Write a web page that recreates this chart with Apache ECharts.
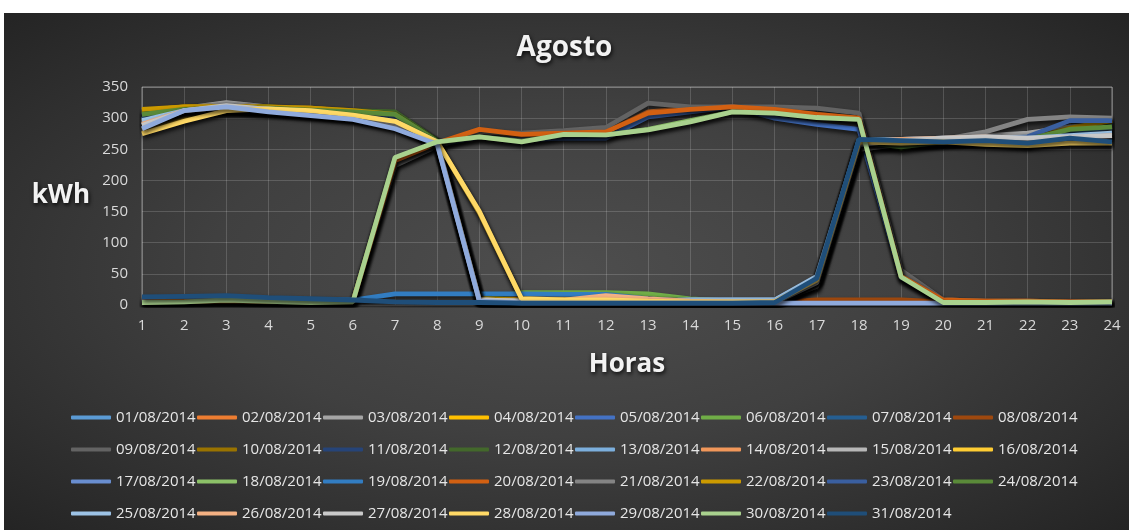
<!DOCTYPE html>
<html>
<head>
<meta charset="utf-8">
<script src="https://cdn.jsdelivr.net/npm/echarts@6/dist/echarts.min.js"></script>
<style>
  html, body { margin: 0; padding: 0; background: #ffffff; width: 1129px; height: 530px; overflow: hidden; }
  #bg { position: absolute; left: 4px; top: 13px; right: 0; bottom: 0;
        background: radial-gradient(ellipse at 50% 50%, #4e4e4e 0%, #404040 45%, #242424 100%); }
  #chart { position: absolute; left: 0; top: 0; width: 1129px; height: 530px; }
</style>
</head>
<body>
<div id="bg"></div>
<div id="chart"></div>
<script>
// ---- data ----
const hours = ['1','2','3','4','5','6','7','8','9','10','11','12','13','14','15','16','17','18','19','20','21','22','23','24'];
const yTicks = { min: 0, max: 350, interval: 50 };
const dayNames = ['01/08/2014','02/08/2014','03/08/2014','04/08/2014','05/08/2014','06/08/2014','07/08/2014','08/08/2014',
  '09/08/2014','10/08/2014','11/08/2014','12/08/2014','13/08/2014','14/08/2014','15/08/2014','16/08/2014',
  '17/08/2014','18/08/2014','19/08/2014','20/08/2014','21/08/2014','22/08/2014','23/08/2014','24/08/2014',
  '25/08/2014','26/08/2014','27/08/2014','28/08/2014','29/08/2014','30/08/2014','31/08/2014'];
const dayColors = ['#5B9BD5','#ED7D31','#A5A5A5','#FFC000','#4472C4','#70AD47','#255E91','#9E480E',
  '#636363','#997300','#264478','#43682B','#7CAFDD','#F1975A','#B7B7B7','#FFCD33',
  '#698ED0','#8CC168','#327DC2','#D26012','#848484','#CC9A00','#3A5FA0','#5A8A39',
  '#9DC3E6','#F4B183','#C9C9C9','#FFD966','#8FAADC','#A9D18E','#1F4E79'];

const d01 = [300,312,318,315,310,304,296,262,8,6,6,6,5,5,5,6,38,262,264,266,268,264,272,280];
const d02 = [4,5,7,5,4,4,230,258,280,272,275,278,310,316,318,312,306,300,45,8,6,6,5,5];
const d03 = [292,316,325,318,312,306,292,262,8,6,6,6,5,4,4,4,28,250,258,264,272,276,286,292];
const d04 = [312,318,320,317,316,311,304,262,10,10,10,9,7,6,6,6,40,262,262,266,262,258,274,286];
const d05 = [5,7,8,6,5,5,228,257,270,265,268,268,302,310,318,300,290,282,44,6,5,5,4,4];
const d06 = [308,316,318,317,314,310,306,262,10,20,20,20,18,10,6,5,38,260,252,260,264,262,280,284];
const d07 = [304,311,313,311,309,310,306,263,8,5,5,5,4,4,4,4,42,265,262,262,265,262,270,276];
const d08 = [306,314,318,316,313,309,304,262,8,5,5,5,4,4,4,4,8,8,8,5,4,4,4,4];
const d09 = [6,8,9,7,6,6,224,255,278,276,280,285,324,318,318,318,316,308,56,8,6,6,5,5];
const d10 = [310,318,320,318,315,312,306,262,9,6,6,6,5,4,4,4,40,262,264,266,268,268,282,296];
const d11 = [305,312,314,312,310,308,304,262,6,4,4,4,3,3,3,3,42,264,262,262,266,262,270,270];
const d12 = [307,315,318,318,315,312,310,264,8,6,6,6,5,4,4,4,40,262,262,264,266,264,276,288];
const d13 = [298,314,320,316,312,306,296,262,8,6,6,6,6,8,8,8,44,264,266,266,268,270,274,278];
const d14 = [294,314,320,315,310,304,294,261,8,10,12,15,10,6,5,5,38,262,266,266,268,266,270,272];
const d15 = [292,314,322,316,310,304,290,260,8,6,6,6,5,4,4,4,36,258,262,266,270,270,272,274];
const d16 = [282,300,314,315,312,306,296,262,148,10,8,8,6,5,5,5,40,262,260,262,260,258,262,262];
const d17 = [290,312,318,312,306,300,288,260,6,5,5,5,4,4,4,4,40,262,262,264,266,264,268,270];
const d18 = [4,5,7,5,4,5,235,261,270,263,273,273,282,296,310,308,302,298,46,5,4,5,4,5];
const d19 = [9,10,11,10,9,8,18,18,18,18,17,17,10,6,5,5,40,264,266,268,268,266,278,286];
const d20 = [5,6,7,6,5,5,232,260,282,274,276,278,308,314,318,314,306,300,46,8,6,6,5,5];
const d21 = [294,316,322,316,310,304,290,261,8,6,6,6,5,4,4,4,30,250,258,266,278,298,302,300];
const d22 = [314,318,319,318,316,312,306,262,10,8,8,8,6,5,5,5,40,262,264,264,266,264,284,296];
const d23 = [304,312,314,312,308,306,300,262,8,5,5,5,4,4,4,4,42,264,262,264,266,270,296,296];
const d24 = [306,314,316,316,313,310,306,263,8,6,6,6,5,4,4,4,40,262,254,262,266,266,282,286];
const d25 = [296,312,318,315,310,304,294,262,8,6,6,6,6,8,8,8,46,264,266,268,270,268,272,276];
const d26 = [290,312,318,314,308,302,290,260,8,6,8,15,10,6,5,5,38,262,266,268,270,266,268,272];
const d27 = [288,312,320,314,308,302,288,260,8,6,6,6,5,4,4,4,36,258,264,268,270,268,270,272];
const d28 = [275,295,312,315,312,305,295,262,150,10,8,8,6,5,5,5,40,262,260,262,258,256,260,260];
const d29 = [283,312,318,310,304,298,283,258,6,3,3,3,3,3,3,3,3,3,3,3,3,3,3,3];
const d30 = [4,5,8,6,4,5,237,262,270,262,274,273,281,294,310,308,301,298,45,4,4,5,4,5];
const d31 = [13,14,15,12,10,8,5,4,4,3,3,3,3,3,3,4,43,266,264,262,264,260,268,262];

const dayValues = [d01,d02,d03,d04,d05,d06,d07,d08,d09,d10,d11,d12,d13,d14,d15,d16,
  d17,d18,d19,d20,d21,d22,d23,d24,d25,d26,d27,d28,d29,d30,d31];

// ---- chart ----
const FONT = "'Open Sans', 'Noto Sans', sans-serif";
const chart = echarts.init(document.getElementById('chart'), null, { renderer: 'canvas' });

const series = dayNames.map((name, i) => ({
  name: name,
  type: 'line',
  data: dayValues[i],
  symbol: 'none',
  showSymbol: false,
  color: dayColors[i],
  lineStyle: {
    width: 4.8,
    color: dayColors[i],
    shadowColor: 'rgba(0,0,0,0.75)',
    shadowBlur: 4,
    shadowOffsetX: 1,
    shadowOffsetY: 3
  },
  emphasis: { disabled: true },
  z: 2 + i
}));

const nameStyle = {
  color: '#f2f2f2', fontWeight: 'bold', fontFamily: FONT,
  textShadowColor: 'rgba(0,0,0,0.85)', textShadowBlur: 4, textShadowOffsetX: 1, textShadowOffsetY: 2
};

chart.setOption({
  backgroundColor: 'transparent',
  animation: false,
  textStyle: { fontFamily: FONT },
  title: {
    text: 'Agosto',
    left: 'center',
    top: 29,
    textStyle: Object.assign({ fontSize: 28 }, nameStyle)
  },
  grid: {
    left: 142, right: 17, top: 87, bottom: 225,
    show: true,
    borderColor: '#8a8a8a',
    borderWidth: 1,
    containLabel: false
  },
  legend: {
    data: dayNames,
    left: 66,
    top: 397,
    width: 1012,
    orient: 'horizontal',
    icon: 'roundRect',
    itemWidth: 40,
    itemHeight: 4,
    itemGap: 1,
    itemStyle: { shadowBlur: 0, shadowColor: 'transparent' },
    textStyle: {
      color: '#e6e6e6',
      fontSize: 15,
      fontFamily: FONT,
      width: 80,
      lineHeight: 31
    }
  },
  xAxis: {
    type: 'category',
    data: hours,
    boundaryGap: false,
    name: 'Horas',
    nameLocation: 'middle',
    nameGap: 47,
    nameTextStyle: Object.assign({ fontSize: 26 }, nameStyle),
    axisLine: { show: true, lineStyle: { color: '#7a7a7a', width: 1 } },
    axisTick: { show: false },
    axisLabel: { color: '#d9d9d9', fontSize: 15, margin: 13, fontFamily: FONT },
    splitLine: { show: true, lineStyle: { color: 'rgba(255,255,255,0.16)', width: 1 } }
  },
  yAxis: {
    type: 'value',
    min: yTicks.min,
    max: yTicks.max,
    interval: yTicks.interval,
    name: 'kWh',
    nameLocation: 'middle',
    nameRotate: 0,
    nameGap: 52,
    nameTextStyle: Object.assign({ fontSize: 26, padding: [6, 0, 0, 0] }, nameStyle),
    axisLine: { show: false },
    axisTick: { show: false },
    axisLabel: { color: '#d9d9d9', fontSize: 15, margin: 14, fontFamily: FONT },
    splitLine: { show: true, lineStyle: { color: 'rgba(255,255,255,0.16)', width: 1 } }
  },
  series: series
});
</script>
</body>
</html>
